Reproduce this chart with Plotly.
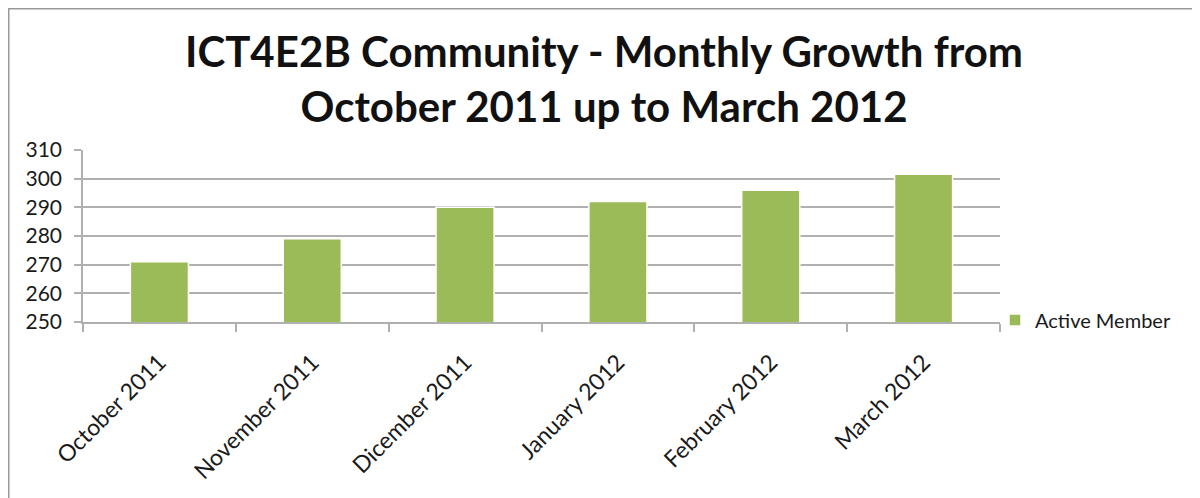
import plotly.graph_objects as go

months = ["October 2011", "November 2011", "Dicember 2011", "January 2012",
          "February 2012", "March 2012"]
active_members = [271, 279, 290, 292, 296, 301.5]
y_ticks = [250, 260, 270, 280, 290, 300, 310]
series_name = "Active Member"
title_text = "ICT4E2B Community - Monthly Growth from<br>October 2011 up to March 2012"

# page body has an 8px margin; figure sized to fit the 1200x498 window
OFF = 8
W, H = 1200 - OFF, 498 - OFF
ml, mt = 83 - OFF, 150 - OFF
mr = W - (1000 - OFF)
mb = H - (322 - OFF)
pw, ph = W - ml - mr, H - mt - mb

def px_x(sx):
    return (sx - OFF - ml) / pw

def px_y(sy):
    return (H - mb - (sy - OFF)) / ph

fig = go.Figure()
fig.add_trace(go.Bar(
    x=months, y=active_members, name=series_name,
    marker=dict(color="#9BBB59", line=dict(color="white", width=1.5)),
    showlegend=True,
))

fig.update_layout(
    width=W, height=H,
    margin=dict(l=ml, r=mr, t=mt, b=mb, pad=0),
    paper_bgcolor="white", plot_bgcolor="white",
    bargap=0.62,
    font=dict(family="Lato, Open Sans, sans-serif", color="#1a1a1a"),
    title=dict(text=title_text, x=0.5, xanchor="center", y=1 - 59 / H, yanchor="top",
               font=dict(size=42, family="Lato, sans-serif", color="#111", weight="bold")),
    showlegend=True,
    legend=dict(x=px_x(995), xanchor="left", y=px_y(320), yanchor="middle",
                font=dict(size=20, color="#1a1a1a"), bgcolor="rgba(0,0,0,0)",
                itemwidth=30),
    xaxis=dict(
        type="category", tickangle=-45, tickson="boundaries", ticks="outside",
        ticklen=8, tickcolor="#b0b0b0", tickwidth=1.5,
        showline=True, linecolor="#b0b0b0", linewidth=1.5,
        showgrid=False, tickfont=dict(size=23), ticklabelstandoff=16,
    ),
    yaxis=dict(
        range=[250, 310], tickvals=y_ticks, ticks="outside", ticklen=7,
        tickcolor="#b0b0b0", tickwidth=1.5,
        showline=True, linecolor="#b0b0b0", linewidth=1.5,
        showgrid=True, gridcolor="#b0b0b0", gridwidth=1.5,
        tickfont=dict(size=21), zeroline=False, ticklabelstandoff=8,
    ),
    shapes=[dict(type="rect", xref="paper", yref="paper",
                 x0=px_x(OFF + 0.75), x1=px_x(1200 + 10), y0=px_y(OFF + 0.75), y1=px_y(498 + 10),
                 line=dict(color="#999999", width=1.5), fillcolor="rgba(0,0,0,0)",
                 layer="above")],
)

fig.write_html("out.html")
